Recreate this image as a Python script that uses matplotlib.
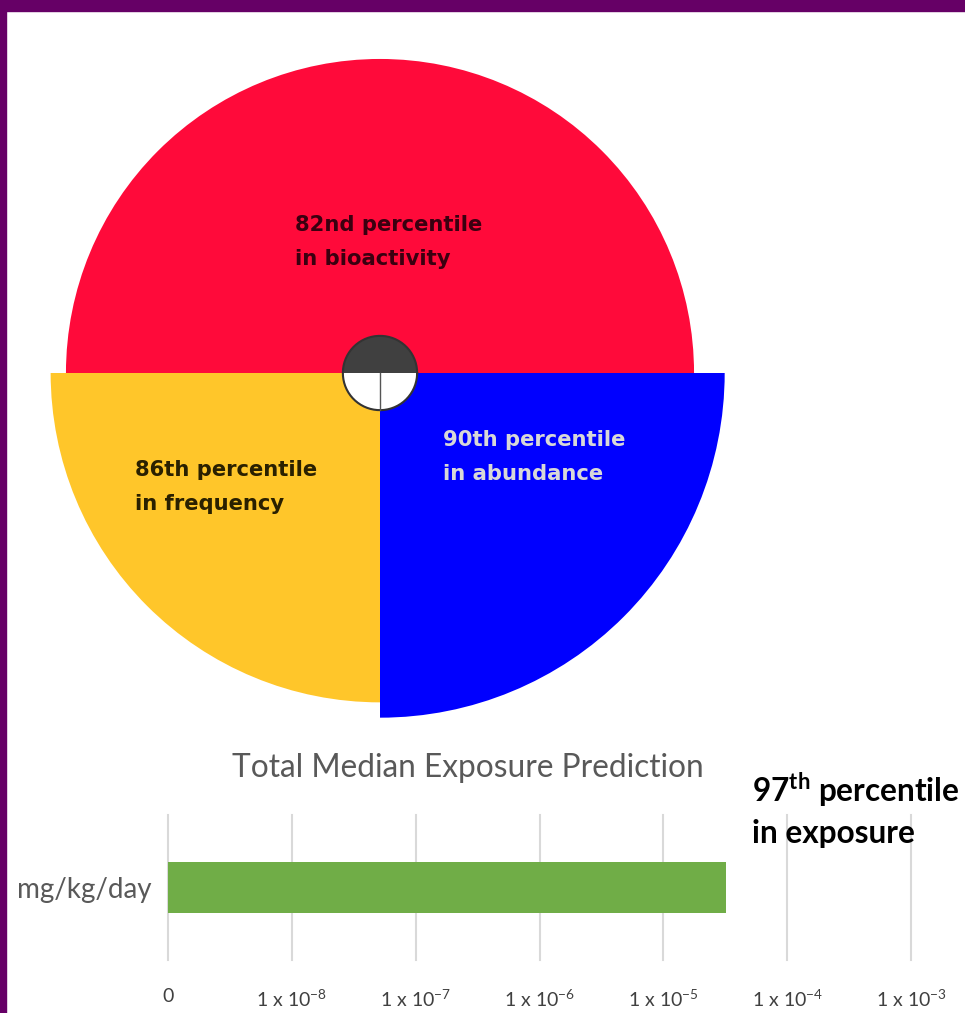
import numpy as np
import matplotlib
matplotlib.use("Agg")
import matplotlib.pyplot as plt
from matplotlib.patches import Rectangle

plt.rcParams["font.family"] = ["Lato", "DejaVu Sans"]
plt.rcParams["mathtext.fontset"] = "custom"
plt.rcParams["mathtext.rm"] = "Lato"
plt.rcParams["mathtext.bf"] = "Lato:bold"

# data
kategorie = ["bioactivity", "frequency", "abundance"]
percentily = [82, 86, 90]
popisky = [["82nd percentile", "in bioactivity"],
           ["86th percentile", "in frequency"],
           ["90th percentile", "in abundance"]]
barvy = ["#ff0a3a", "#ffc62a", "#0000ff"]
barvy_textu = ["#3a0010", "#2a2000", "#d8d8d8"]
uhly_start = [0, 180, 270]      # stupne
uhly_sirka = [180, 90, 90]

exp_label = "mg/kg/day"
exp_hodnota = 3.2e-5
exp_ticky = [1e-9, 1e-8, 1e-7, 1e-6, 1e-5, 1e-4, 1e-3]
exp_popisky = ["0", r"1 x 10$^{-8}$", r"1 x 10$^{-7}$", r"1 x 10$^{-6}$",
               r"1 x 10$^{-5}$", r"1 x 10$^{-4}$", r"1 x 10$^{-3}$"]

W, H = 965, 1013
fig = plt.figure(figsize=(W / 100, H / 100), dpi=100)
fig.patch.set_facecolor("white")


def fx(x):
    return x / W


def fy(y):
    return 1 - y / H


# fialovy ramecek
fig.patches.append(Rectangle((0, fy(11)), 1, 11 / H, transform=fig.transFigure,
                             color="#660066", zorder=10))
fig.patches.append(Rectangle((0, 0), 6 / W, 1, transform=fig.transFigure,
                             color="#660066", zorder=10))

# polarni graf - stred (380, 373), polomer osy 360 px
cx, cy, R = 380, 373, 360
ax = fig.add_axes([fx(cx - R), fy(cy + R), 2 * R / W, 2 * R / H], projection="polar")
ax.set_ylim(0, 94)
for p, c, a0, w in zip(percentily, barvy, uhly_start, uhly_sirka):
    t0 = np.deg2rad(a0)
    ww = np.deg2rad(w)
    ax.bar(t0 + ww / 2, p, width=ww, bottom=0, color=c, edgecolor="none")

# maly kruh uprostred
r0 = 9.7
ax.bar(np.pi / 2, r0, width=np.pi, color="#404040", edgecolor="none", zorder=3)
ax.bar(3 * np.pi / 2, r0, width=np.pi, color="white", edgecolor="none", zorder=3)
tt = np.linspace(0, 2 * np.pi, 200)
ax.plot(tt, np.full_like(tt, r0), color="#333333", lw=1.5, zorder=4)
ax.plot([3 * np.pi / 2, 3 * np.pi / 2], [0, r0], color="#555555", lw=1, zorder=4)
ax.set_axis_off()

# popisky v grafu
pozice = [(295, 225), (135, 470), (443, 440)]
for (x, y), radky, tc in zip(pozice, popisky, barvy_textu):
    for i, t in enumerate(radky):
        fig.text(fx(x), fy(y + i * 34), t, family="DejaVu Sans", fontweight="bold",
                 fontsize=15.2, color=tc, ha="left", va="center")

# sloupcovy graf expozice
ax2 = fig.add_axes([fx(168), fy(960), (911 - 168) / W, (960 - 815) / H])
ax2.set_xscale("log")
ax2.set_xlim(exp_ticky[0], exp_ticky[-1])
ax2.set_ylim(-1.4, 1.4)
ax2.barh(0, exp_hodnota - exp_ticky[0], left=exp_ticky[0], height=1.0, color="#70ad47")
ax2.set_xticks(exp_ticky)
ax2.set_xticklabels(exp_popisky)
ax2.xaxis.set_minor_locator(matplotlib.ticker.NullLocator())
ax2.set_yticks([0])
ax2.set_yticklabels([exp_label])
ax2.tick_params(axis="x", length=0, pad=20, labelsize=14, labelcolor="#404040")
ax2.tick_params(axis="y", length=0, pad=12, labelsize=20, labelcolor="#595959")
ax2.grid(axis="x", color="#d9d9d9", lw=1.5)
for g in ax2.get_xgridlines():
    g.set_clip_on(False)
ax2.set_axisbelow(True)
for s in ax2.spines.values():
    s.set_visible(False)
ax2.set_facecolor("none")

fig.text(fx(468), fy(768), "Total Median Exposure Prediction", fontsize=22.8,
         color="#595959", ha="center", va="center")
fig.text(fx(752), fy(790), r"97$^{\mathbf{th}}$ percentile", fontsize=22.7,
         fontweight="bold", color="black", ha="left", va="center")
fig.text(fx(752), fy(833), "in exposure", fontsize=22.7,
         fontweight="bold", color="black", ha="left", va="center")

fig.savefig("out.png", dpi=100, facecolor="white")
